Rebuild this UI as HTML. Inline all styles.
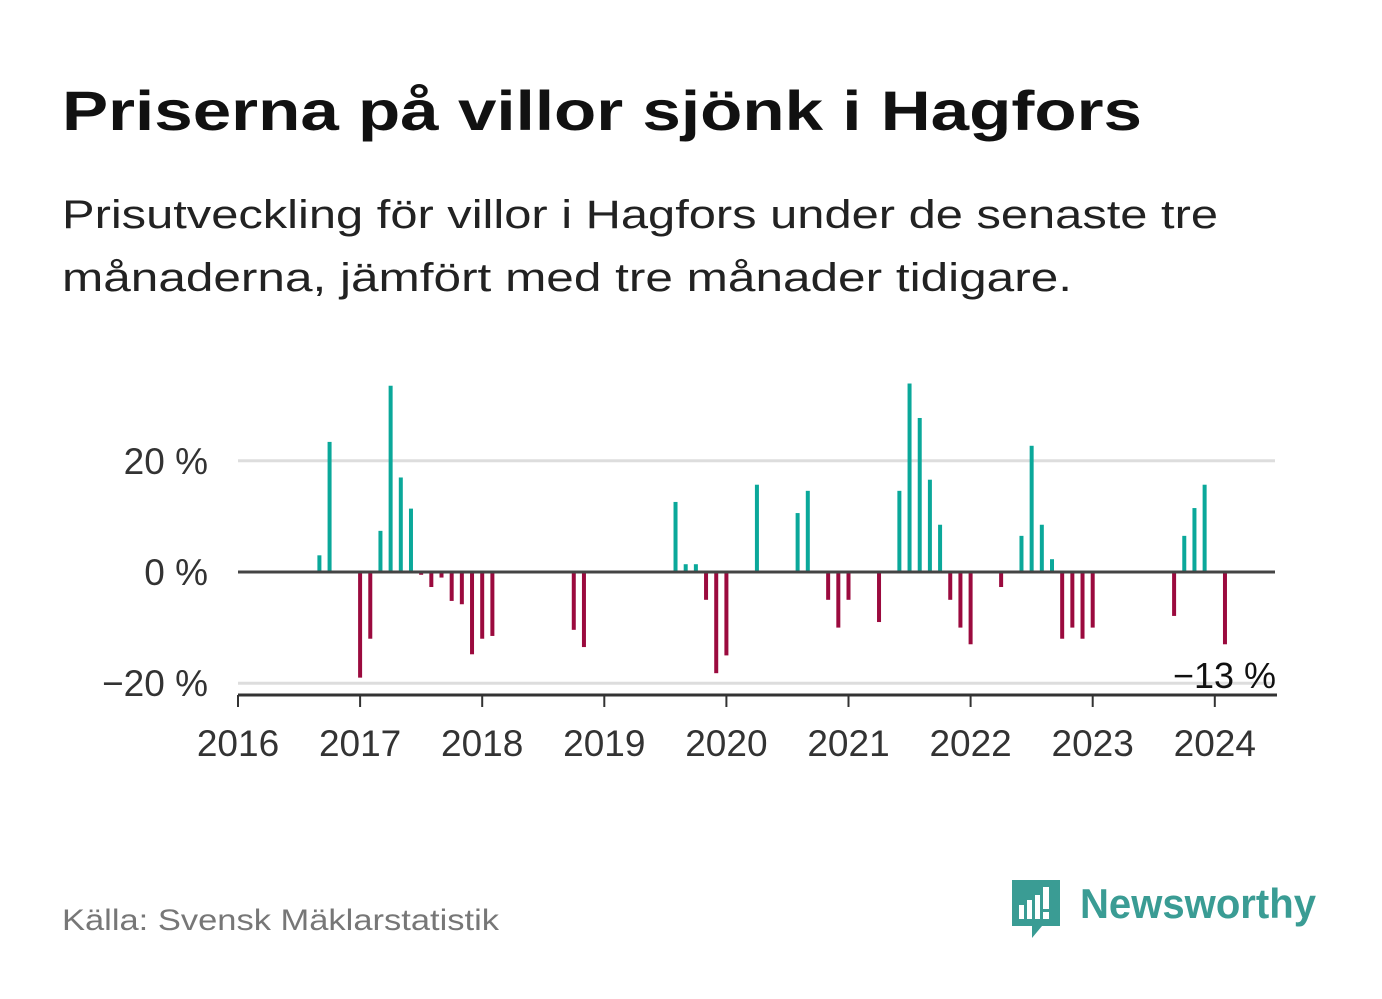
<!DOCTYPE html>
<html><head><meta charset="utf-8"><style>
body{margin:0;background:#fff}
svg{display:block;font-family:"Liberation Sans",sans-serif}
</style></head><body>
<svg id="c" width="1382" height="999" viewBox="0 0 1382 999">
<text x="62" y="130" font-size="56" font-weight="bold" fill="#111" textLength="1080" lengthAdjust="spacingAndGlyphs">Priserna på villor sjönk i Hagfors</text>
<text x="62" y="228" font-size="40" fill="#222" textLength="1156" lengthAdjust="spacingAndGlyphs">Prisutveckling för villor i Hagfors under de senaste tre</text>
<text x="62" y="291" font-size="40" fill="#222" textLength="1010" lengthAdjust="spacingAndGlyphs">månaderna, jämfört med tre månader tidigare.</text>
<g id="plot"></g>
<text x="62" y="930" font-size="30" fill="#777" textLength="437" lengthAdjust="spacingAndGlyphs">Källa: Svensk Mäklarstatistik</text>
<g>
<path d="M1012 880 h48 v46 h-18 l-10 12 v-12 h-20 z" fill="#3a9c94"/>
<rect x="1019" y="905" width="5" height="14" fill="#fff"/><rect x="1027" y="900" width="5" height="19" fill="#fff"/><rect x="1035" y="895" width="5" height="24" fill="#fff"/><rect x="1043" y="887" width="6" height="22" fill="#fff"/><rect x="1043" y="912" width="6" height="7" fill="#fff"/>
<text x="1080" y="918" font-size="42" font-weight="bold" fill="#3a9c94" textLength="236" lengthAdjust="spacingAndGlyphs">Newsworthy</text>
</g>
</svg>
<script>
const months = ["2016-09","2016-10","2017-01","2017-02","2017-03","2017-04","2017-05","2017-06","2017-07","2017-08","2017-09","2017-10","2017-11","2017-12","2018-01","2018-02","2018-10","2018-11","2019-08","2019-09","2019-10","2019-11","2019-12","2020-01","2020-04","2020-08","2020-09","2020-11","2020-12","2021-01","2021-04","2021-06","2021-07","2021-08","2021-09","2021-10","2021-11","2021-12","2022-01","2022-04","2022-06","2022-07","2022-08","2022-09","2022-10","2022-11","2022-12","2023-01","2023-09","2023-10","2023-11","2023-12","2024-02"];
const values = [3,23.4,-19,-12,7.4,33.5,17,11.4,-0.5,-2.7,-1,-5.2,-5.8,-14.8,-12,-11.5,-10.4,-13.5,12.6,1.4,1.4,-5,-18.2,-15,15.7,10.6,14.6,-5,-10,-5,-9,14.6,33.9,27.7,16.6,8.5,-5,-10,-13,-2.7,6.5,22.7,8.5,2.3,-12,-10,-12,-10,-7.9,6.5,11.5,15.7,-13];
const yTicks = [20,0,-20];
const yTickLabels = ["20 %","0 %","−20 %"];
const xYears = [2016,2017,2018,2019,2020,2021,2022,2023,2024];
const lastLabel = "−13 %";

const NS="http://www.w3.org/2000/svg";
const g=document.getElementById('plot');
const x0=238, pxYear=122.1;
function xScale(ym){const p=ym.split('-');return x0+(+p[0]-2016+(+p[1]-1)/12)*pxYear;}
function xYear(y){return x0+(y-2016)*pxYear;}
function yScale(v){return 572-v*5.56;}
function mk(tag,attrs){const e=document.createElementNS(NS,tag);for(const k in attrs)e.setAttribute(k,attrs[k]);g.appendChild(e);return e;}
yTicks.forEach((t,i)=>{
  if(t!==0){const l=mk('line',{x1:238,x2:1275,y1:yScale(t),y2:yScale(t),stroke:'#ddd','stroke-width':3});
  
  }
  const tx=mk('text',{x:208,y:yScale(t)+13,'font-size':37,fill:'#333','text-anchor':'end'});
  tx.textContent=yTickLabels[i];
  
  
});
months.forEach((m,i)=>{
  const v=values[i],x=xScale(m);
  const r=mk('rect',{x:x-2,width:4,y:Math.min(yScale(v),yScale(0)),height:Math.abs(yScale(v)-yScale(0)),fill:v>=0?'#0aa89a':'#9b0a3e'});
  
  
});
const z=mk('line',{x1:238,x2:1275,y1:yScale(0),y2:yScale(0),stroke:'#444','stroke-width':3});


const ax=mk('line',{x1:238,x2:1277,y1:695,y2:695,stroke:'#333','stroke-width':3});


xYears.forEach(y=>{
  const t=mk('line',{x1:xYear(y),x2:xYear(y),y1:695,y2:707,stroke:'#333','stroke-width':2});
  
  
  const tx=mk('text',{x:xYear(y),y:756,'font-size':37,fill:'#333','text-anchor':'middle'});
  tx.textContent=y;
  
  
});
const ll=mk('text',{x:1276,y:688,'font-size':36,fill:'#111','text-anchor':'end'});
ll.textContent=lastLabel;


</script>
</body></html>
